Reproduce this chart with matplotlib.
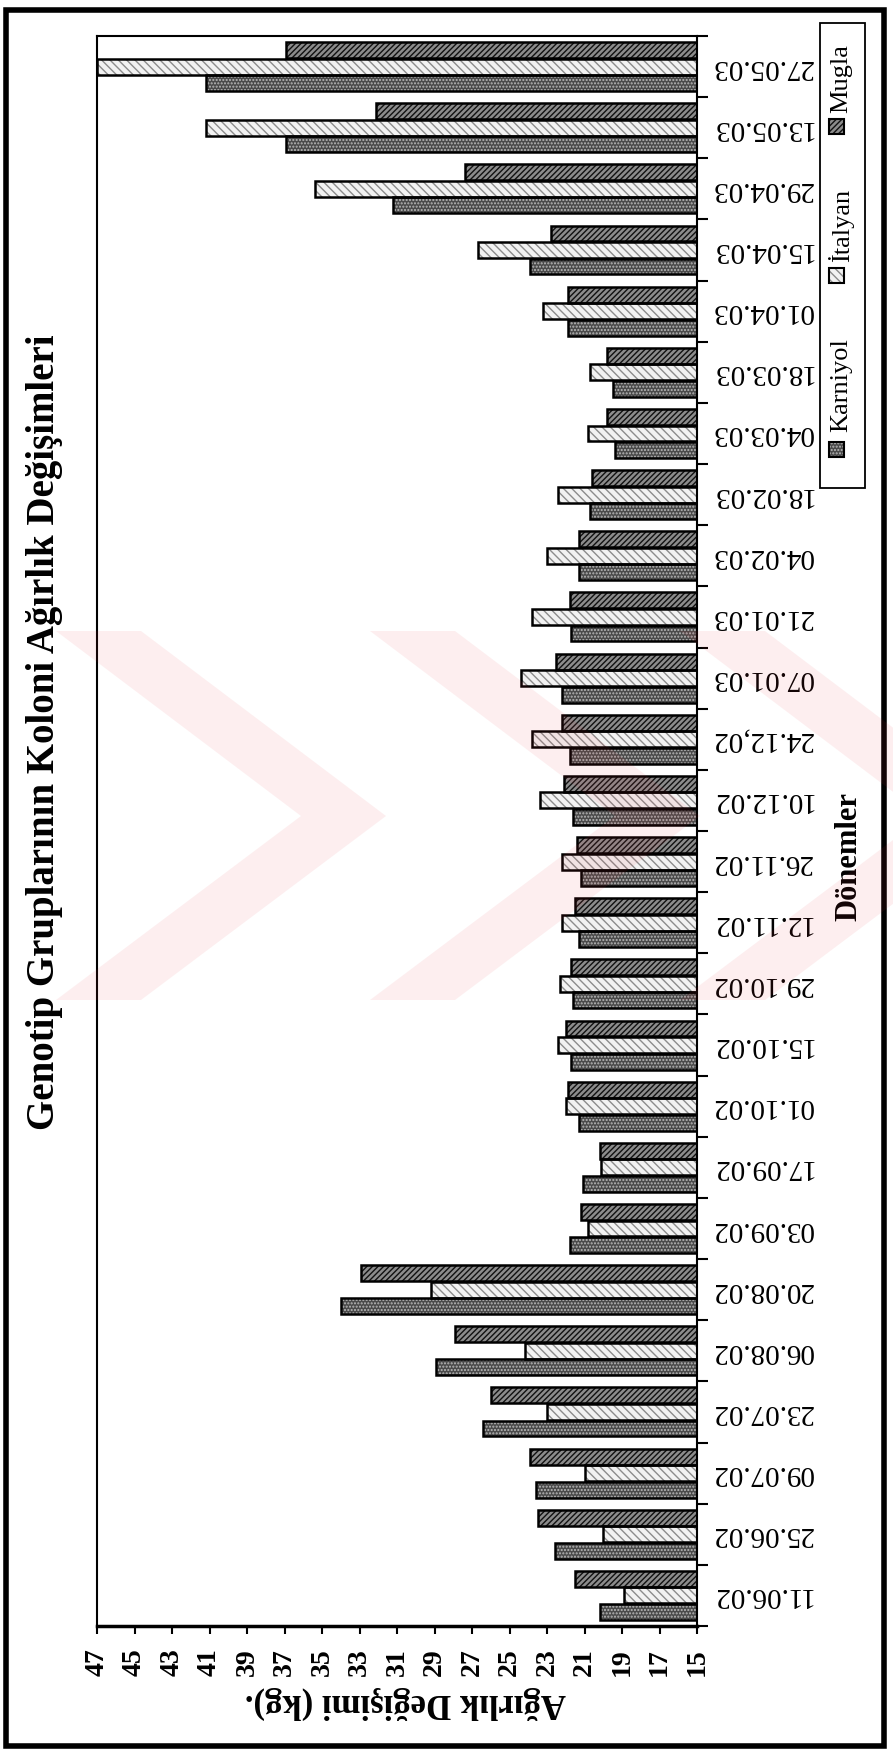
import numpy as np
import matplotlib.pyplot as plt
from matplotlib.patches import Rectangle, Polygon

# periods, bottom to top
donemler = ["11.06.02", "25.06.02", "09.07.02", "23.07.02", "06.08.02", "20.08.02",
            "03.09.02", "17.09.02", "01.10.02", "15.10.02", "29.10.02", "12.11.02",
            "26.11.02", "10.12.02", "24.12,02", "07.01.03", "21.01.03", "04.02.03",
            "18.02.03", "04.03.03", "18.03.03", "01.04.03", "15.04.03", "29.04.03",
            "13.05.03", "27.05.03"]

# colony weight (kg) per genotype group
karniyol = [20.2, 22.6, 23.6, 26.4, 28.9, 34.0, 21.8, 21.1, 21.3, 21.7, 21.6, 21.3, 21.2,
            21.6, 21.8, 22.2, 21.7, 21.3, 20.7, 19.4, 19.5, 21.9, 23.9, 31.2, 36.9, 41.2]
italyan = [18.9, 20.0, 21.0, 23.0, 24.2, 29.2, 20.8, 20.1, 22.0, 22.4, 22.3, 22.2, 22.2,
           23.4, 23.8, 24.4, 23.8, 23.0, 22.4, 20.8, 20.7, 23.2, 26.7, 35.4, 41.2, 47.0]
mugla = [21.5, 23.5, 23.9, 26.0, 27.9, 32.9, 21.2, 20.2, 21.9, 22.0, 21.7, 21.5, 21.4,
         22.1, 22.2, 22.5, 21.8, 21.3, 20.6, 19.8, 19.8, 21.9, 22.8, 27.4, 32.1, 36.9]

ticks = np.arange(15, 48, 2)
baslik = "Genotip Gruplarının Koloni Ağırlık Değişimleri"

W, H = 893, 1753
plt.rcParams['font.family'] = ['Liberation Serif', 'DejaVu Serif']
plt.rcParams['hatch.linewidth'] = 1.0

fig = plt.figure(figsize=(W / 100, H / 100), dpi=100)


def fx(px):
    return px / W


def fy(py):
    return 1 - py / H


ax = fig.add_axes([fx(97), fy(1626), fx(697) - fx(97), fy(36) - fy(1626)])

# (values, offset, face, hatch colour, hatch)
styles = [
    (karniyol, -0.27, '#4a4a4a', '#b8b8b8', '.....'),
    (italyan, 0.0, '#f2f2f2', '#8c8c8c', '\\\\\\\\'),
    (mugla, 0.27, '#8c8c8c', '#111111', '//////'),
]
y = np.arange(len(donemler))
for vals, off, fc, hc, hatch in styles:
    v = np.array(vals)
    ax.barh(y + off, v - 15, left=15, height=0.26, color=fc, edgecolor=hc,
            hatch=hatch, linewidth=0, zorder=2)
    ax.barh(y + off, v - 15, left=15, height=0.26, fill=False,
            edgecolor='black', linewidth=1.8, zorder=3)

ax.set_xlim(47, 15)
ax.set_ylim(-0.5, len(donemler) - 0.5)
ax.set_xticks(ticks)
ax.set_xticklabels([str(t) for t in ticks], rotation=90, fontsize=20, fontweight='bold')
ax.tick_params(axis='x', direction='out', length=6, width=1.5, pad=10)

ax.yaxis.tick_right()
ax.set_yticks(y)
ax.set_yticklabels(donemler, rotation=180, fontsize=21, va='center')
ax.set_yticks(np.arange(-0.5, len(donemler)), minor=True)
ax.tick_params(axis='y', which='major', length=0, pad=10)
ax.tick_params(axis='y', which='minor', length=8, width=1.5, direction='out')

for side, lw in [('bottom', 2.5), ('top', 1.5), ('left', 1.5), ('right', 1.5)]:
    ax.spines[side].set_linewidth(lw)

fig.text(fx(45), fy(732), baslik, rotation=90, ha='center', va='center',
         fontsize=28, fontweight='bold')
fig.text(fx(405), fy(1703), "Ağırlık Değişimi (kg).", rotation=180, ha='center',
         va='center', fontsize=25, fontweight='bold')
fig.text(fx(849), fy(857), "Dönemler", rotation=90, ha='center', va='center',
         fontsize=22, fontweight='bold')

# legend drawn sideways along the right edge
fig.add_artist(Rectangle((fx(820), fy(488)), fx(865) - fx(820), fy(23) - fy(488),
                         transform=fig.transFigure, fill=False, lw=1.3, ec='black'))
entries = [("Karniyol", 449, 432), ("İtalyan", 275, 262), ("Mugla", 126, 113)]
for (name, sq, ty), (_, _, fc, hc, hatch) in zip(entries, styles):
    box = (fx(829), fy(sq + 8))
    bw, bh = fx(15), fx(15) * W / H
    fig.add_artist(Rectangle(box, bw, bh, transform=fig.transFigure,
                             facecolor=fc, edgecolor=hc, hatch=hatch, lw=0))
    fig.add_artist(Rectangle(box, bw, bh, transform=fig.transFigure,
                             fill=False, ec='black', lw=1.5))
    fig.text(fx(841), fy(ty), name, rotation=90, rotation_mode='anchor',
             ha='left', va='center', fontsize=19)

# faint pink watermark chevrons laid over the middle of the page
top, mid, bot = 631, 816, 1000
for x0 in (56, 370, 680):
    pts = [(x0, top), (x0 + 85, top), (x0 + 330, mid), (x0 + 85, bot),
           (x0, bot), (x0 + 245, mid)]
    fig.add_artist(Polygon([(fx(px), fy(py)) for px, py in pts], closed=True,
                           transform=fig.transFigure, facecolor='#e8323c',
                           alpha=0.08, lw=0, zorder=10))

# page frame
fig.add_artist(Rectangle((fx(6), fy(1746)), fx(884) - fx(6), fy(10) - fy(1746),
                         transform=fig.transFigure, fill=False, lw=4, ec='black'))

fig.savefig('out.png', dpi=100)
